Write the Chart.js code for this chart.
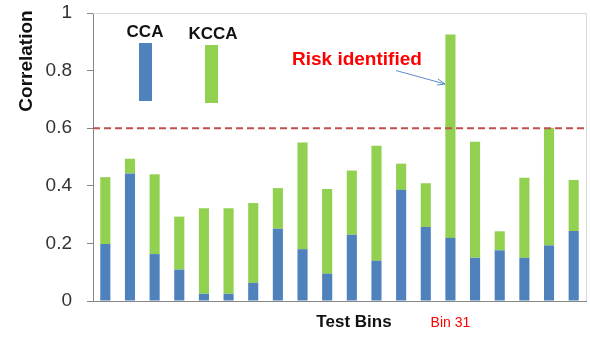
<!DOCTYPE html>
<html>
<head>
<meta charset="utf-8">
<script src="https://cdn.jsdelivr.net/npm/chart.js@4"></script>
<style>
  html, body { margin: 0; padding: 0; background: #fff; }
  #wrap { width: 590px; height: 337px; }
</style>
</head>
<body>
<div id="wrap"><canvas id="bar-chart" width="590" height="337"></canvas></div>
<script>
const bins = ["Bin 3", "Bin 5", "Bin 7", "Bin 9", "Bin 11", "Bin 13", "Bin 15", "Bin 17", "Bin 19", "Bin 21",
  "Bin 23", "Bin 25", "Bin 27", "Bin 29", "Bin 31", "Bin 33", "Bin 35", "Bin 37", "Bin 39", "Bin 41"];
const ccaValues = [0.198, 0.443, 0.163, 0.109, 0.025, 0.025, 0.063, 0.251, 0.18, 0.095,
  0.23, 0.14, 0.386, 0.257, 0.219, 0.15, 0.176, 0.15, 0.193, 0.243];
const kccaValues = [0.232, 0.051, 0.277, 0.184, 0.297, 0.297, 0.277, 0.141, 0.37, 0.294,
  0.223, 0.399, 0.091, 0.152, 0.706, 0.403, 0.066, 0.278, 0.408, 0.177];
const yTicks = [0, 0.2, 0.4, 0.6, 0.8, 1];
const riskLevel = 0.6;
const flaggedBin = "Bin 31";

const blue = "#4F81BD",
  green = "#92D050",
  axisGrey = "#868686",
  red = "#FF0000";

// annotations drawn on top: legend blocks, threshold, labels
const extras = {
  id: "extras",
  beforeDatasetsDraw(chart) {
    const { ctx, chartArea: a } = chart;
    ctx.save();
    ctx.strokeStyle = "#D9D9D9";
    ctx.lineWidth = 1;
    ctx.beginPath();
    ctx.moveTo(a.left, a.top + 0.5);
    ctx.lineTo(a.right + 0.5, a.top + 0.5);
    ctx.lineTo(a.right + 0.5, a.bottom);
    ctx.stroke();
    ctx.restore();
  },
  afterDatasetsDraw(chart) {
    const { ctx, chartArea: a, scales } = chart;
    const y = scales.y.getPixelForValue(riskLevel);
    ctx.save();

    ctx.strokeStyle = "#C0504D";
    ctx.lineWidth = 2;
    ctx.setLineDash([7, 4]);
    ctx.beginPath();
    ctx.moveTo(a.left, y);
    ctx.lineTo(a.right, y);
    ctx.stroke();
    ctx.setLineDash([]);

    // legend swatches
    ctx.fillStyle = blue;
    ctx.fillRect(139, 43, 13, 58);
    ctx.fillStyle = green;
    ctx.fillRect(205, 45, 13, 58);

    ctx.fillStyle = "#111";
    ctx.font = "bold 17px 'Liberation Sans'";
    ctx.textAlign = "center";
    ctx.textBaseline = "alphabetic";
    ctx.fillText("CCA", 145, 37);
    ctx.fillText("KCCA", 213, 39);

    ctx.fillStyle = red;
    ctx.font = "bold 19px 'Liberation Sans'";
    ctx.textAlign = "left";
    ctx.fillText("Risk identified", 292, 65);

    // arrow to the flagged bin
    ctx.strokeStyle = "#5B8BC9";
    ctx.lineWidth = 1;
    ctx.beginPath();
    ctx.moveTo(396, 70.5);
    ctx.lineTo(445, 84);
    ctx.moveTo(445, 84);
    ctx.lineTo(438, 79);
    ctx.moveTo(445, 84);
    ctx.lineTo(437, 85);
    ctx.stroke();

    // axis titles
    ctx.fillStyle = "#111";
    ctx.font = "bold 17px 'Liberation Sans'";
    ctx.textAlign = "center";
    ctx.fillText("Test Bins", 354, 327);

    ctx.font = "bold 19px 'Liberation Sans'";
    ctx.translate(32, 61);
    ctx.rotate(-Math.PI / 2);
    ctx.fillText("Correlation", 0, 0);
    ctx.restore();
  },
};

const chartConfig = {
  type: "bar",
  data: {
    labels: bins,
    datasets: [
      { label: "CCA", data: ccaValues, backgroundColor: blue, borderWidth: 0 },
      { label: "KCCA", data: kccaValues, backgroundColor: green, borderWidth: 0 },
    ],
  },
  options: {
    responsive: false,
    animation: false,
    layout: { padding: { top: 13, right: 4, left: 0, bottom: 0 } },
    datasets: { bar: { barPercentage: 0.41, categoryPercentage: 1 } },
    plugins: { legend: { display: false }, tooltip: { enabled: false } },
    scales: {
      x: {
        stacked: true,
        grid: { display: false },
        border: { display: true, color: axisGrey, width: 1 },
        ticks: {
          autoSkip: false,
          maxRotation: 0,
          padding: 6,
          color: red,
          font: { family: "'Liberation Sans'", size: 14 },
          callback(value) {
            const label = this.getLabelForValue(value);
            return label === flaggedBin ? label : "";
          },
        },
        afterFit(scale) { scale.height = 36; },
      },
      y: {
        stacked: true,
        min: 0,
        max: 1,
        afterBuildTicks(scale) { scale.ticks = yTicks.map((v) => ({ value: v })); },
        grid: { display: true, drawOnChartArea: false, drawTicks: true, tickLength: 6, color: axisGrey },
        border: { display: true, color: axisGrey, width: 1 },
        ticks: {
          padding: 15,
          color: "#333",
          font: { family: "'Liberation Sans'", size: 19, lineHeight: 1.2 },
          callback: (v) => String(Math.round(v * 10) / 10),
        },
        afterFit(scale) {
          scale.width = 93;
          scale.paddingTop = 0;
          scale.paddingBottom = 0;
        },
      },
    },
  },
  plugins: [extras],
};

new Chart(document.getElementById("bar-chart").getContext("2d"), chartConfig);
</script>
</body>
</html>
